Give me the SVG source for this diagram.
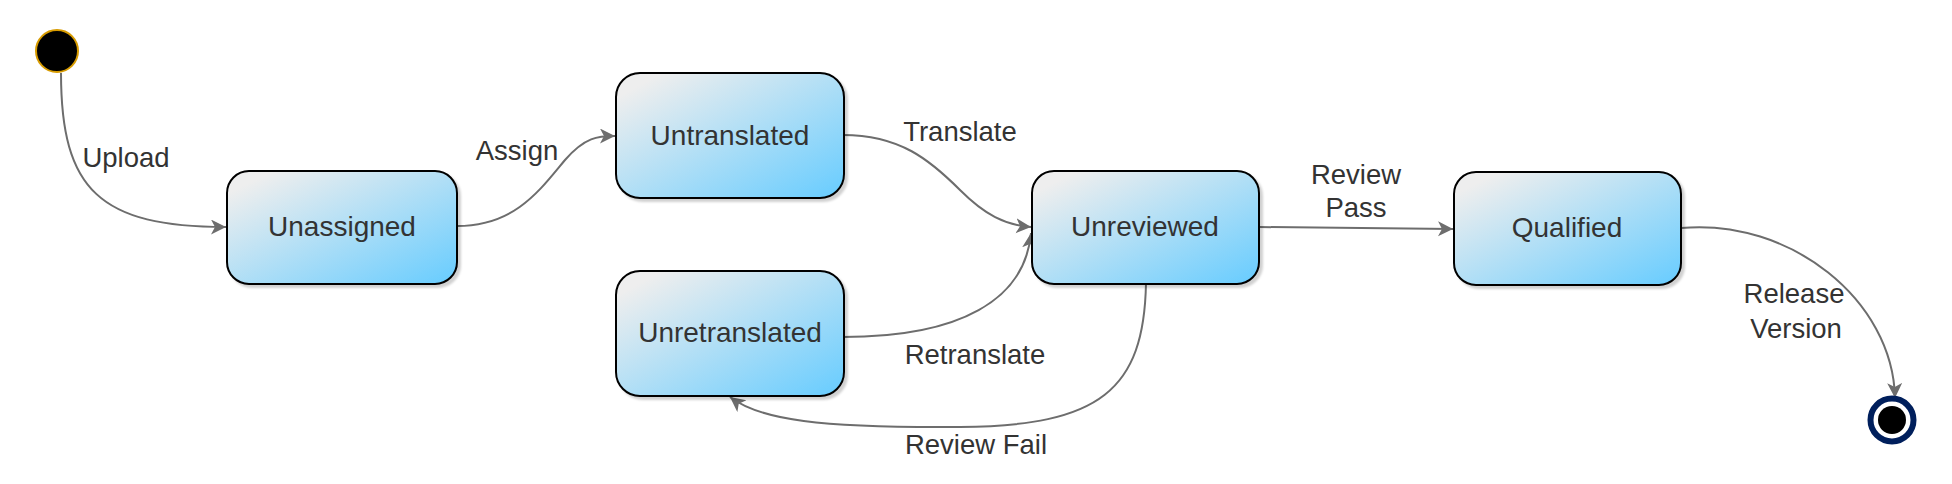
<svg xmlns="http://www.w3.org/2000/svg" width="1952" height="484" viewBox="0 0 1952 484">
<style>
.state{fill:url(#g);stroke:#000;stroke-width:2;filter:url(#sh)}
.lbl{font-family:"Liberation Sans",Arial,sans-serif;font-size:27.5px;fill:#333;text-anchor:middle}
.edge{fill:none;stroke:#6d6d6d;stroke-width:2;marker-end:url(#arr)}
</style>
<defs>
<linearGradient id="g" x1="0" y1="0" x2="1" y2="1">
<stop offset="0.1" stop-color="#eeeeee"/>
<stop offset="1" stop-color="#66ccff"/>
</linearGradient>
<filter id="sh" x="-10%" y="-10%" width="130%" height="130%">
<feDropShadow dx="3" dy="3" stdDeviation="1.2" flood-color="#000" flood-opacity="0.18"/>
</filter>
<marker id="arr" markerUnits="userSpaceOnUse" markerWidth="18" markerHeight="16" refX="15" refY="7.5" orient="auto" viewBox="0 0 18 16">
<path d="M0,0 L15,7.5 L0,15 L4,7.5 Z" fill="#6d6d6d"/>
</marker>
</defs>
<g id="connectors">
<path class="edge" d="M61,73 C61,190 100,227 226,227"/>
<path class="edge" d="M457,226 C515,226 540,190 565,160 C585,137 598,136 615,136"/>
<path class="edge" d="M843,135 C900,135 930,160 960,190 C985,215 1005,225 1031,227"/>
<path class="edge" d="M843,337 C960,337 1025,300 1031,233"/>
<path class="edge" d="M1146,283 C1144,390 1100,426 960,427 C820,428 760,420 730,397"/>
<path class="edge" d="M1259,227 L1453,229"/>
<path class="edge" d="M1681,228 C1790,218 1893,300 1895,398"/>
</g>
<g id="labels">
<text class="lbl" x="126" y="167">Upload</text>
<text class="lbl" x="517" y="160">Assign</text>
<text class="lbl" x="960" y="141">Translate</text>
<text class="lbl" x="975" y="364">Retranslate</text>
<text class="lbl" x="976" y="454">Review Fail</text>
<text class="lbl" x="1356" y="184">Review</text>
<text class="lbl" x="1356" y="217">Pass</text>
<text class="lbl" x="1794" y="303">Release</text>
<text class="lbl" x="1796" y="338">Version</text>
</g>
<g id="start"><circle cx="57" cy="51" r="21" fill="#000" stroke="#d79b00" stroke-width="2"/></g>
<g id="unassigned"><rect class="state" x="227" y="171" width="230" height="113" rx="22"/><text class="lbl" x="342" y="236" style="font-size:28px">Unassigned</text></g>
<g id="untranslated"><rect class="state" x="616" y="73" width="228" height="125" rx="24"/><text class="lbl" x="730" y="145" style="font-size:28px">Untranslated</text></g>
<g id="unretranslated"><rect class="state" x="616" y="271" width="228" height="125" rx="24"/><text class="lbl" x="730" y="342" style="font-size:28px">Unretranslated</text></g>
<g id="unreviewed"><rect class="state" x="1032" y="171" width="227" height="113" rx="22"/><text class="lbl" x="1145" y="236" style="font-size:28px">Unreviewed</text></g>
<g id="qualified"><rect class="state" x="1454" y="172" width="227" height="113" rx="22"/><text class="lbl" x="1567" y="237" style="font-size:28px">Qualified</text></g>
<g id="end"><circle cx="1892" cy="420" r="21.5" fill="#fff" stroke="#001f5c" stroke-width="6"/><circle cx="1892" cy="420" r="14" fill="#000"/></g>
</svg>
